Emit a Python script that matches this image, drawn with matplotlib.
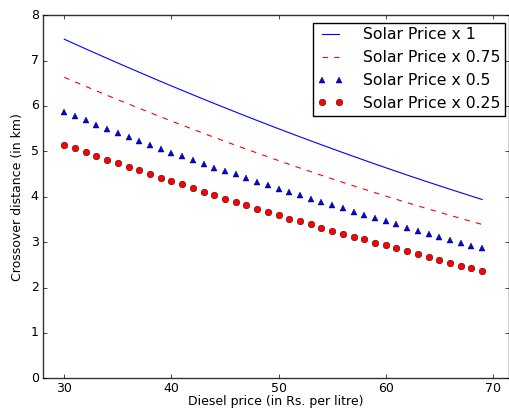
import matplotlib
matplotlib.use("Agg")
import matplotlib.pyplot as plt

plt.style.use('classic')

diesel_price = list(range(30, 70))

solar_x1 = [7.470, 7.363, 7.257, 7.152, 7.048, 6.945, 6.842, 6.741, 6.640, 6.540,
            6.441, 6.343, 6.246, 6.149, 6.053, 5.959, 5.865, 5.772, 5.679, 5.588,
            5.497, 5.408, 5.319, 5.231, 5.144, 5.058, 4.972, 4.888, 4.804, 4.721,
            4.639, 4.558, 4.477, 4.398, 4.319, 4.242, 4.165, 4.089, 4.013, 3.939]

solar_x075 = [6.630, 6.530, 6.430, 6.332, 6.234, 6.137, 6.042, 5.947, 5.853, 5.760,
              5.667, 5.576, 5.486, 5.396, 5.308, 5.220, 5.133, 5.048, 4.963, 4.879,
              4.796, 4.713, 4.632, 4.552, 4.472, 4.394, 4.316, 4.239, 4.164, 4.089,
              4.015, 3.942, 3.869, 3.798, 3.728, 3.658, 3.590, 3.522, 3.455, 3.389]

solar_x05 = [5.86, 5.78, 5.68, 5.59, 5.50, 5.41, 5.32, 5.23, 5.14, 5.06,
             4.97, 4.89, 4.80, 4.72, 4.64, 4.57, 4.49, 4.41, 4.33, 4.26,
             4.18, 4.11, 4.03, 3.96, 3.89, 3.82, 3.75, 3.67, 3.60, 3.53,
             3.46, 3.39, 3.32, 3.25, 3.18, 3.11, 3.05, 2.98, 2.92, 2.86]

solar_x025 = [5.15, 5.07, 4.98, 4.90, 4.81, 4.74, 4.66, 4.58, 4.50, 4.42,
              4.35, 4.27, 4.19, 4.11, 4.03, 3.96, 3.88, 3.81, 3.74, 3.66,
              3.59, 3.52, 3.46, 3.39, 3.32, 3.25, 3.18, 3.12, 3.06, 2.99,
              2.93, 2.86, 2.80, 2.73, 2.67, 2.61, 2.54, 2.48, 2.43, 2.37]

labels = ["Solar Price x 1", "Solar Price x 0.75", "Solar Price x 0.5", "Solar Price x 0.25"]

fig = plt.figure(figsize=(5.10, 4.09), dpi=100, facecolor='white')
ax = fig.add_axes([0.084, 0.075, 0.914, 0.888])
ax.set_facecolor('white')

ax.plot(diesel_price, solar_x1, 'b-', lw=0.8, label=labels[0])
ax.plot(diesel_price, solar_x075, 'r--', lw=0.8, dashes=(4, 4.5), label=labels[1])
ax.plot(diesel_price, solar_x05, 'b^', ms=5, mec='black', mew=0.3, label=labels[2])
ax.plot(diesel_price, solar_x025, 'ro', ms=4.8, mec='black', mew=0.3, label=labels[3])

ax.set_xlim(28, 71.5)
ax.set_ylim(0, 8)
ax.set_xticks([30, 40, 50, 60, 70])
ax.tick_params(axis='both', labelsize=9, length=3)
ax.tick_params(axis='x', pad=2.5)
ax.tick_params(axis='y', pad=3)
ax.set_xlabel("Diesel price (in Rs. per litre)", fontsize=9, labelpad=0)
ax.set_ylabel("Crossover distance (in km)", fontsize=9, labelpad=5)
for s in ax.spines.values():
    s.set_linewidth(1.0)
    s.set_edgecolor('#333333')

leg = ax.legend(loc='upper right', bbox_to_anchor=(0.9916, 0.979), borderaxespad=0,
                fontsize=11.25, numpoints=2, handlelength=1.7,
                fancybox=False, framealpha=1,
                labelspacing=0.5, borderpad=0.3, handletextpad=1.2)
leg.get_frame().set_edgecolor('black')
leg.get_frame().set_linewidth(1.0)

fig.savefig("out.png", dpi=100, facecolor='white')
